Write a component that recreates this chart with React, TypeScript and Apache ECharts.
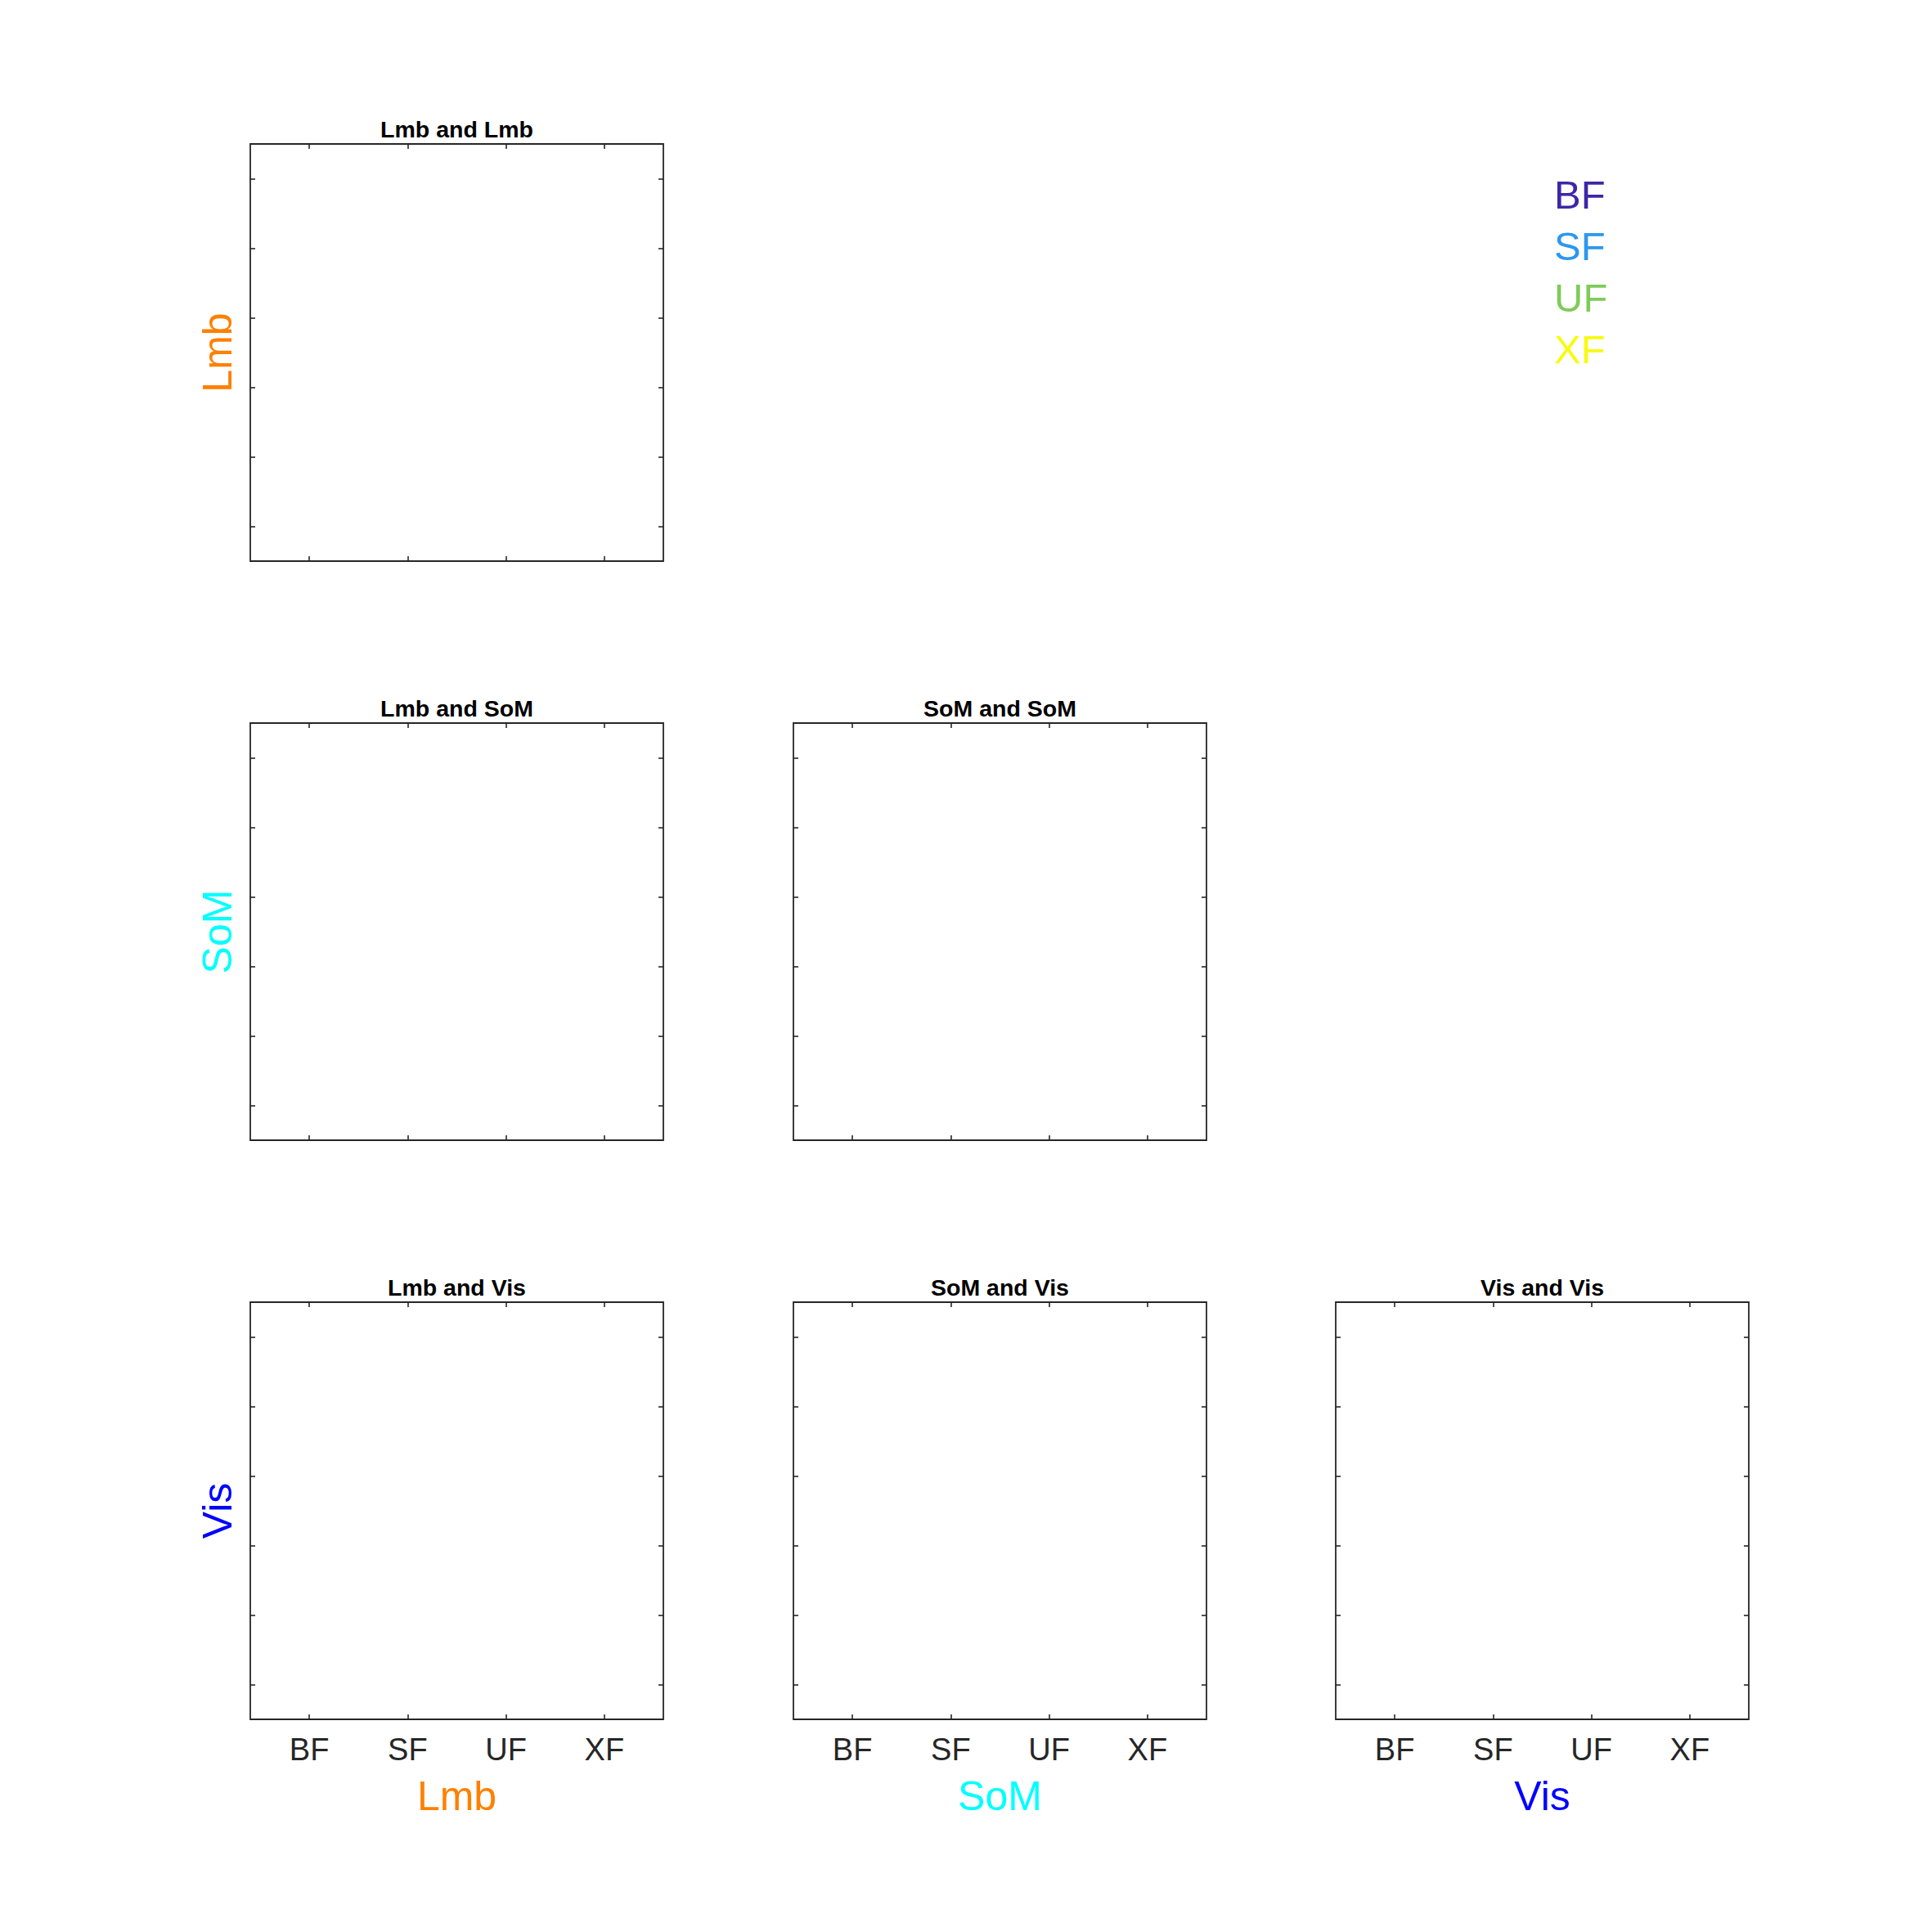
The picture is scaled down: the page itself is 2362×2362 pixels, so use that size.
import React, { useEffect, useRef } from "react";
import * as echarts from "echarts";

// ---- data ----
const CATEGORIES = ["BF", "SF", "UF", "XF"];
const CATEGORY_POSITIONS = [1, 2, 3, 4];
const X_RANGE = [0.4, 4.6];
const Y_TICKS = [1, 2, 3, 4, 5, 6];
const Y_RANGE = [0.5, 6.5];
const MODALITIES = ["Lmb", "SoM", "Vis"];
const MODALITY_COLORS = ["#FF8000", "#00FFFF", "#0000FF"];
const FEATURE_COLORS = ["#3E26A8", "#2B98EE", "#7FCB5A", "#F8FA14"];
// values plotted in the panels (the reference panels are empty)
const BF_VALUES: number[][] = [];
const SF_VALUES: number[][] = [];
const UF_VALUES: number[][] = [];
const XF_VALUES: number[][] = [];
const FEATURE_VALUES = [BF_VALUES, SF_VALUES, UF_VALUES, XF_VALUES];

// ---- layout ----
const COL_LEFT = [306, 970, 1633];
const ROW_TOP = [176, 884, 1592];
const PANEL_W = 505;
const PANEL_H = 510;
const FONT = "'Liberation Sans', Arial, Helvetica, sans-serif";
const AXIS_COLOR = "#262626";

function buildOption() {
  const grids: any[] = [];
  const xAxes: any[] = [];
  const yAxes: any[] = [];
  const graphics: any[] = [];
  const series: any[] = [];
  let g = 0;
  for (let r = 0; r < 3; r++) {
    for (let c = 0; c <= r; c++) {
      grids.push({
        left: COL_LEFT[c],
        top: ROW_TOP[r],
        width: PANEL_W,
        height: PANEL_H,
        show: true,
        borderColor: AXIS_COLOR,
        borderWidth: 1.8,
        backgroundColor: "#ffffff",
        containLabel: false,
      });
      const bottomRow = r === 2;
      const tick = {
        show: true,
        inside: true,
        length: 6,
        lineStyle: { color: AXIS_COLOR, width: 1.6 },
      };
      // bottom x axis
      xAxes.push({
        type: "value",
        gridIndex: g,
        position: "bottom",
        min: X_RANGE[0],
        max: X_RANGE[1],
        axisLine: { show: false },
        splitLine: { show: false },
        axisTick: { ...tick, customValues: CATEGORY_POSITIONS },
        axisLabel: {
          show: bottomRow,
          customValues: CATEGORY_POSITIONS,
          formatter: (v: number) => CATEGORIES[Math.round(v) - 1] ?? "",
          fontFamily: FONT,
          fontSize: 38,
          color: AXIS_COLOR,
          margin: 37,
          verticalAlign: "middle",
        },
        name: bottomRow ? MODALITIES[c] : "",
        nameLocation: "middle",
        nameGap: 94,
        nameTextStyle: {
          fontFamily: FONT,
          fontSize: 50,
          color: MODALITY_COLORS[c],
          align: "center",
          verticalAlign: "middle",
        },
      });
      // top x axis (ticks only)
      xAxes.push({
        type: "value",
        gridIndex: g,
        position: "top",
        min: X_RANGE[0],
        max: X_RANGE[1],
        axisLine: { show: false },
        splitLine: { show: false },
        axisTick: { ...tick, customValues: CATEGORY_POSITIONS },
        axisLabel: { show: false },
      });
      // left y axis
      yAxes.push({
        type: "value",
        gridIndex: g,
        position: "left",
        min: Y_RANGE[0],
        max: Y_RANGE[1],
        axisLine: { show: false },
        splitLine: { show: false },
        axisTick: { ...tick, customValues: Y_TICKS },
        axisLabel: { show: false },
        name: c === 0 ? MODALITIES[r] : "",
        nameLocation: "middle",
        nameGap: 40,
        nameRotate: 90,
        nameTextStyle: {
          fontFamily: FONT,
          fontSize: 50,
          color: MODALITY_COLORS[r],
          align: "center",
          verticalAlign: "middle",
        },
      });
      // right y axis (ticks only)
      yAxes.push({
        type: "value",
        gridIndex: g,
        position: "right",
        min: Y_RANGE[0],
        max: Y_RANGE[1],
        axisLine: { show: false },
        splitLine: { show: false },
        axisTick: { ...tick, customValues: Y_TICKS },
        axisLabel: { show: false },
      });
      // title
      graphics.push({
        type: "text",
        x: COL_LEFT[c] + PANEL_W / 2,
        y: ROW_TOP[r] - 18.5,
        style: {
          text: `${MODALITIES[c]} and ${MODALITIES[r]}`,
          fill: "#000000",
          fontFamily: FONT,
          fontSize: 28.5,
          fontWeight: "bold",
          align: "center",
          verticalAlign: "middle",
          textAlign: "center",
          textVerticalAlign: "middle",
        },
      });
      // feature series for this panel (empty in reference)
      CATEGORIES.forEach((name, k) => {
        series.push({
          type: "scatter",
          name,
          xAxisIndex: 2 * g,
          yAxisIndex: 2 * g,
          data: FEATURE_VALUES[k],
          itemStyle: { color: FEATURE_COLORS[k] },
          symbolSize: 10,
        });
      });
      g++;
    }
  }
  return {
    animation: false,
    backgroundColor: "#ffffff",
    grid: grids,
    xAxis: xAxes,
    yAxis: yAxes,
    series,
    graphic: graphics,
    legend: {
      show: true,
      orient: "vertical",
      left: 1890,
      top: 208,
      itemGap: 14,
      itemWidth: 0,
      itemHeight: 14,
      icon: "none",
      selectedMode: false,
      data: CATEGORIES.map((name, k) => ({
        name,
        icon: "none",
        textStyle: { color: FEATURE_COLORS[k] },
      })),
      textStyle: {
        fontFamily: FONT,
        fontSize: 49,
        lineHeight: 49,
      },
    },
  };
}

export default function App() {
  const ref = useRef<HTMLDivElement>(null);
  useEffect(() => {
    if (!ref.current) return;
    const chart = echarts.init(ref.current, undefined, { renderer: "svg" });
    chart.setOption(buildOption() as any);
    return () => chart.dispose();
  }, []);
  return (
    <div
      ref={ref}
      style={{ position: "fixed", left: 0, top: 0, width: 2362, height: 2362, background: "#fff" }}
    />
  );
}
